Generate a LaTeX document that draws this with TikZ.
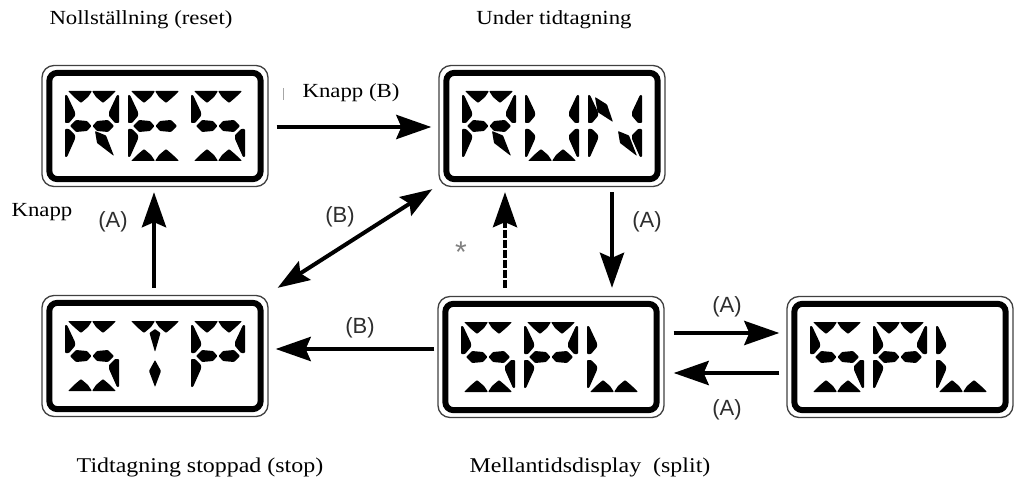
\documentclass[tikz,border=0pt]{standalone}
\usepackage{fontspec}
\setmainfont{Liberation Serif}
\newfontfamily\labelfont{Liberation Sans}
\newfontfamily\titlefont[FakeStretch=1.14]{Liberation Serif}
\usetikzlibrary{arrows.meta,calc}

% LCD segments in a 54 x 70 cell, y pointing down
\def\segAa{(3,0)--(27,0)--(23,6)--(16,12)--(9,6)--cycle}
\def\segAb{(27,0)--(51,0)--(45,6)--(38,12)--(31,6)--cycle}
\def\segF{(0,4)--(2,4)--(10,21)--(10,25)--(4,32)--(0,32)--cycle}
\def\segB{(54,4)--(52,4)--(44,21)--(44,25)--(50,32)--(54,32)--cycle}
\def\segGa{(5,35)--(11,29)--(22,30)--(26.5,35)--(22,40)--(11,41)--cycle}
\def\segGb{(27.5,35)--(32,30)--(43,29)--(49,35)--(43,41)--(32,40)--cycle}
\def\segE{(0,38)--(4,38)--(10,44)--(10,48)--(2,66)--(0,66)--cycle}
\def\segC{(54,38)--(50,38)--(44,44)--(44,48)--(52,66)--(54,66)--cycle}
\def\segDa{(3,70)--(27,70)--(23,64)--(16,58)--(9,64)--cycle}
\def\segDb{(27,70)--(51,70)--(45,64)--(38,58)--(31,64)--cycle}
\def\segH{(7,6)--(19,13.5)--(25,31)--(9.5,21)--cycle}
\def\segM{(30,40)--(41,44.5)--(49,65)--(32,52)--cycle}
\def\segI{(27,8)--(32.5,12)--(27,31)--(21.5,12)--cycle}
\def\segL{(27,39)--(33,50)--(27,66)--(21,50)--cycle}

\newcommand\lcdchar[3]{%
  \begin{scope}[shift={(#1,#2)}]
    \foreach \s in {#3} {\fill[seg] \csname seg\s\endcsname;}
  \end{scope}}

\tikzset{
  lcd/.style={draw=black!75, line width=1.3pt, rounded corners=12pt,
    minimum width=226pt, minimum height=121pt, inner sep=0pt},
  lcdin/.style={draw=black, line width=6pt, rounded corners=8pt},
  seg/.style={fill=black, rounded corners=0.8pt},
  arr/.style={line width=4.5pt, -{Stealth[length=35pt,width=24pt,inset=5pt]}},
  dbl/.style={line width=4pt, {Stealth[length=32pt,width=22pt,inset=5pt]}-{Stealth[length=32pt,width=22pt,inset=5pt]}},
  lab/.style={font=\labelfont\fontsize{22}{22}\selectfont, text=black!82, inner sep=0pt},
  ttl/.style={font=\titlefont\fontsize{20}{20}\selectfont, inner sep=0pt},
  ttlb/.style={font=\titlefont\fontsize{21}{21}\selectfont, inner sep=0pt},
}

\begin{document}
\begin{tikzpicture}[x=1pt,y=-1pt]
\useasboundingbox (0,0) rectangle (1018,484);

% boxes
\node[lcd] (res)  at (155,126) {};
\node[lcd] (run)  at (552,126) {};
\node[lcd] (stp)  at (155,356) {};
\node[lcd] (spl)  at (551,357) {};
\node[lcd] (spltwo) at (900,357) {};
\foreach \b in {res,run,stp,spl,spltwo}
  \draw[lcdin] ([shift={(8,8)}]\b.north west) rectangle ([shift={(-8,-8)}]\b.south east);

% RES
\lcdchar{65}{91}{Aa,Ab,F,B,Ga,Gb,E,M}
\lcdchar{128}{91}{Aa,Ab,F,Ga,Gb,E,Da,Db}
\lcdchar{191}{91}{Aa,Ab,F,Ga,Gb,C,Da,Db}
% RUN
\lcdchar{462}{91}{Aa,Ab,F,B,Ga,Gb,E,M}
\lcdchar{525}{91}{F,B,E,C,Da,Db}
\lcdchar{588}{91}{F,B,E,C,H,M}
% STP
\lcdchar{65}{321}{Aa,Ab,F,Ga,Gb,C,Da,Db}
\lcdchar{128}{321}{Aa,Ab,I,L}
\lcdchar{191}{321}{Aa,Ab,F,B,Ga,Gb,E}
% SPL
\lcdchar{461}{322}{Aa,Ab,F,Ga,Gb,C,Da,Db}
\lcdchar{524}{322}{Aa,Ab,F,B,Ga,Gb,E}
\lcdchar{587}{322}{F,E,Da,Db}
% SPL (right)
\lcdchar{810}{322}{Aa,Ab,F,Ga,Gb,C,Da,Db}
\lcdchar{873}{322}{Aa,Ab,F,B,Ga,Gb,E}
\lcdchar{936}{322}{F,E,Da,Db}

% titles
\node[ttl] (tres) at (141,20) {Nollställning (reset)};
\node[ttl] (trun) at (554,20) {Under tidtagning};
\node[ttlb] (tstp) at (200,467) {Tidtagning stoppad (stop)};
\node[ttlb] (tspl) at (590,467) {Mellantidsdisplay\ \ (split)};
\node[ttl] (kb) at (351,93) {Knapp (B)};
\node[ttl] (ka) at (42,212) {Knapp};
\draw[black!35, line width=0.8pt] (283,88) -- (283,100);

% connectors
\draw[arr] ([shift={(8,1)}]res.east) -- ([shift={(-7,1)}]run.west);
\draw[arr] ([shift={(-1,-7)}]stp.north) -- ([shift={(-1,5)}]res.south);
\draw[dbl] ([shift={(9,-7)}]stp.north east) -- ([shift={(-6,2)}]run.south west);
\draw[arr, line width=4pt, dash pattern=on 8pt off 2pt] ([shift={(-46,-8)}]spl.north) -- ([shift={(-47,5)}]run.south);
\draw[arr] ([shift={(60,5)}]run.south) -- ([shift={(61,-8)}]spl.north);
\draw[arr] ([shift={(-3,-8)}]spl.west) -- ([shift={(7,-7)}]stp.east);
\draw[arr] ([shift={(9,-24)}]spl.east) -- ([shift={(-7,-24)}]spltwo.west);
\draw[arr] ([shift={(-7,16)}]spltwo.west) -- ([shift={(9,16)}]spl.east);

% labels
\node[lab] (la1) at (113,222) {(A)};
\node[lab] (lb1) at (340,217) {(B)};
\node[lab, text=black!50, font=\labelfont\fontsize{30}{30}\selectfont] (star) at (461,252) {*};
\node[lab] (la2) at (647,222) {(A)};
\node[lab] (lb2) at (360,328) {(B)};
\node[lab] (la3) at (727,307) {(A)};
\node[lab] (la4) at (727,410) {(A)};
\end{tikzpicture}
\end{document}
